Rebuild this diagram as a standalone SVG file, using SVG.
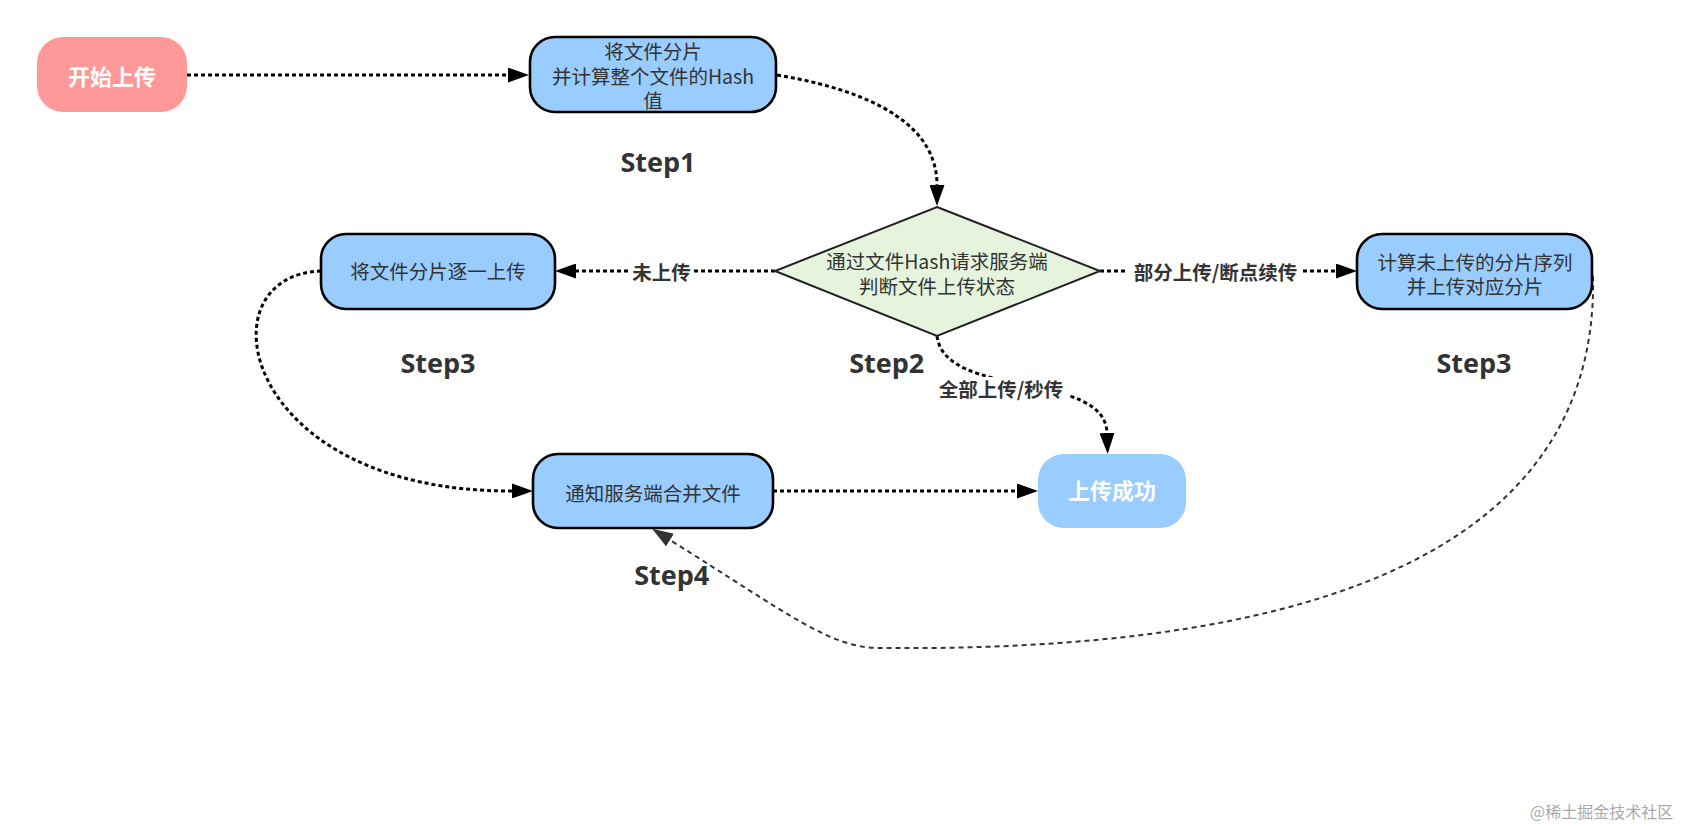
<svg xmlns="http://www.w3.org/2000/svg" width="1695" height="826" viewBox="0 0 1695 826">
<style>
.node{fill:#99CCFF;stroke:#000;stroke-width:2.6}
.t{font-family:"Noto Sans CJK SC","Microsoft YaHei",sans-serif;font-size:19.5px;fill:#333;text-anchor:middle}
.w{font-family:"Noto Sans CJK SC",sans-serif;font-size:22px;font-weight:700;fill:#fff;text-anchor:middle}
.lbl{font-family:"Noto Sans CJK SC",sans-serif;font-size:19.5px;font-weight:700;fill:#333;text-anchor:middle}
.step{font-family:"Open Sans","Liberation Sans",sans-serif;font-size:27px;font-weight:700;fill:#333;text-anchor:middle}
.c{fill:none;stroke:#000;stroke-width:3;stroke-dasharray:4 3}
.thin{fill:none;stroke:#333;stroke-width:2;stroke-dasharray:5 4}
.bg{fill:#fff}
</style>
<defs>
<marker id="ah" markerUnits="userSpaceOnUse" markerWidth="21" markerHeight="15" refX="0" refY="7.5" orient="auto" viewBox="0 0 21 15">
<path d="M0,0 L21,7.5 L0,15 z" fill="#000"/>
</marker>
<marker id="ah2" markerUnits="userSpaceOnUse" markerWidth="21" markerHeight="15" refX="0" refY="7.5" orient="auto" viewBox="0 0 21 15">
<path d="M0,0 L21,7.5 L0,15 z" fill="#333"/>
</marker>
</defs>

<g id="connectors">
<path class="c" d="M187,75 L508,75" marker-end="url(#ah)"/>
<path class="c" d="M777,75 C879,92 937,128 937,185" marker-end="url(#ah)"/>
<path class="c" d="M775,271 L576,271" marker-end="url(#ah)"/>
<path class="c" d="M1100,271 L1336,271" marker-end="url(#ah)"/>
<path class="c" d="M937,336 C945,400 1105,370 1107,433" marker-end="url(#ah)"/>
<path class="c" d="M321,271 C200,275 240,492 512,491" marker-end="url(#ah)"/>
<path class="c" d="M773,491 L1017,491" marker-end="url(#ah)"/>
<path class="thin" d="M1593,276 C1600,600 1200,651 880,648 C830,648 790,615 670,540" marker-end="url(#ah2)"/>
<g id="label-weishangchuan">
<rect class="bg" x="630" y="261" width="63" height="24"/>
<text class="lbl" x="661.5" y="280">未上传</text>
</g>
<g id="label-bufen">
<rect class="bg" x="1128" y="261" width="175" height="24"/>
<text class="lbl" x="1215.5" y="280">部分上传/断点续传</text>
</g>
<g id="label-quanbu">
<rect class="bg" x="936" y="377" width="132" height="25"/>
<text class="lbl" x="1001" y="397">全部上传/秒传</text>
</g>
</g>

<g id="start">
<rect x="37" y="37" width="150" height="75" rx="26" fill="#FF9999"/>
<text class="w" x="112" y="84.5">开始上传</text>
</g>

<g id="node-hash">
<rect class="node" x="530" y="37" width="246" height="75" rx="25"/>
<text class="t" x="653" y="59">将文件分片</text>
<text class="t" x="653" y="83.5">并计算整个文件的Hash</text>
<text class="t" x="653" y="107.5">值</text>
</g>

<g id="decision">
<polygon points="937,207 1100,271 937,336 775,271" fill="#E6F4DE" stroke="#222" stroke-width="2"/>
<text class="t" x="937" y="269">通过文件Hash请求服务端</text>
<text class="t" x="937" y="294">判断文件上传状态</text>
</g>

<g id="node-upload-all">
<rect class="node" x="321" y="234" width="234" height="75" rx="25"/>
<text class="t" x="438" y="278.5">将文件分片逐一上传</text>
</g>

<g id="node-upload-rest">
<rect class="node" x="1357" y="234" width="235" height="75" rx="25"/>
<text class="t" x="1475" y="269.5">计算未上传的分片序列</text>
<text class="t" x="1475" y="293.5">并上传对应分片</text>
</g>

<g id="node-merge">
<rect class="node" x="533" y="454" width="240" height="74" rx="25"/>
<text class="t" x="653" y="500.5">通知服务端合并文件</text>
</g>

<g id="success">
<rect x="1038" y="454" width="148" height="74" rx="26" fill="#99CCFF"/>
<text class="w" x="1112" y="499">上传成功</text>
</g>

<g id="steps">
<text class="step" x="658" y="171.5">Step1</text>
<text class="step" x="886.7" y="372.7">Step2</text>
<text class="step" x="438" y="372.7">Step3</text>
<text class="step" x="1474" y="372.7">Step3</text>
<text class="step" x="671.7" y="585">Step4</text>
</g>

<text x="1530" y="818" font-family="'Noto Sans CJK SC',sans-serif" font-size="16" fill="#aaa">@稀土掘金技术社区</text>
</svg>
